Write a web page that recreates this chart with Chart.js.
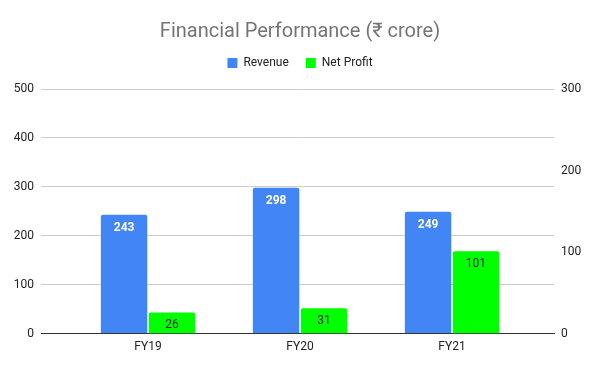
<!DOCTYPE html>
<html>
<head>
<meta charset="utf-8">
<script src="https://cdn.jsdelivr.net/npm/chart.js@4"></script>
<style>
  html, body { margin: 0; padding: 0; background: #fff; }
  #wrap { width: 600px; height: 371px; }
</style>
</head>
<body>
<div id="wrap"><canvas id="bar-chart"></canvas></div>
<script>
var categories = ['FY19', 'FY20', 'FY21'];
var revenue = [243, 298, 249];
var netProfit = [26, 31, 101];
var leftTicks = [0, 100, 200, 300, 400, 500];
var rightTicks = [0, 100, 200, 300];

// bars sit on a linear x so the groups can be placed like the original
function points(values) {
    return values.map(function (v, i) { return { x: i, y: v } })
}

var valueLabels = {
    id: 'valueLabels',
    afterDatasetsDraw: function (chart) {
        var ctx = chart.ctx
        chart.data.datasets.forEach(function (ds, di) {
            var meta = chart.getDatasetMeta(di)
            meta.data.forEach(function (bar, i) {
                ctx.save()
                ctx.font = ds.labelFont
                ctx.fillStyle = ds.labelColor
                ctx.textAlign = 'center'
                ctx.textBaseline = 'middle'
                ctx.fillText(String(ds.data[i].y), bar.x, bar.y + 13)
                ctx.restore()
            })
        })
    }
}

// extra room under the legend
var legendGap = {
    id: 'legendGap',
    beforeInit: function (chart) {
        var fit = chart.legend.fit
        chart.legend.fit = function () {
            fit.bind(chart.legend)()
            this.height += 10
        }
    }
}

Chart.defaults.font.family = 'Roboto, "Noto Sans", sans-serif'
Chart.defaults.font.size = 12
Chart.defaults.color = '#222'

var data = {
    datasets: [{
        label: 'Revenue',
        data: points(revenue),
        yAxisID: 'y',
        backgroundColor: '#4285F4',
        borderRadius: 2,
        labelFont: 'bold 12px Roboto',
        labelColor: '#fff'
    }, {
        label: 'Net Profit',
        data: points(netProfit),
        yAxisID: 'y1',
        backgroundColor: '#00FF00',
        borderRadius: 2,
        labelFont: '12px Roboto',
        labelColor: '#222'
    }]
}

var option = {
    responsive: true,
    maintainAspectRatio: false,
    animation: false,
    categoryPercentage: 0.63,
    barPercentage: 0.97,
    layout: { padding: { top: 10, bottom: 11, left: 0, right: 0 } },
    plugins: {
        title: {
            display: true,
            text: 'Financial Performance (₹ crore)',
            color: '#757575',
            font: { size: 20, weight: 'normal' },
            padding: { top: 10, bottom: -4 }
        },
        legend: {
            labels: { boxWidth: 10, boxHeight: 10, padding: 17, color: '#222' }
        },
        tooltip: { enabled: false }
    },
    scales: {
        x: {
            type: 'linear',
            offset: false,
            min: -0.704,
            max: 2.671,
            grid: { display: false, drawTicks: false },
            border: { color: '#333', width: 1 },
            ticks: {
                stepSize: 1,
                includeBounds: false,
                padding: 6,
                callback: function (v) { return categories[v] || '' }
            }
        },
        y: {
            position: 'left',
            min: leftTicks[0],
            max: leftTicks[leftTicks.length - 1],
            grid: { color: '#ccc', drawTicks: false },
            border: { display: false },
            ticks: { stepSize: 100, padding: 7 },
            afterFit: function (scale) { scale.width = 41 }
        },
        y1: {
            position: 'right',
            min: rightTicks[0],
            max: rightTicks[rightTicks.length - 1],
            grid: { display: false, drawTicks: false },
            border: { display: false },
            ticks: { stepSize: 100, padding: 7 },
            afterFit: function (scale) { scale.width = 46 }
        }
    }
}

var tempGraph = new Chart(document.getElementById('bar-chart'), {
    type: 'bar',
    data: data,
    options: option,
    plugins: [valueLabels, legendGap]
})
</script>
</body>
</html>
